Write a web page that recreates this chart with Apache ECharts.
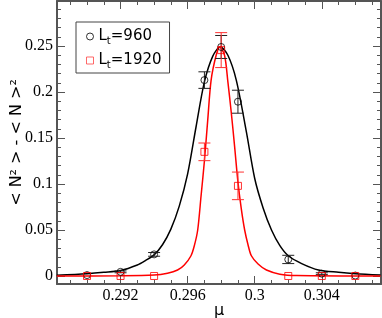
<!DOCTYPE html>
<html>
<head>
<meta charset="utf-8">
<script src="https://cdn.jsdelivr.net/npm/echarts@6/dist/echarts.min.js"></script>
<style>
html,body{margin:0;padding:0;background:#fff;}
#chart{width:382px;height:318px;}
</style>
</head>
<body>
<div id="chart"></div>
<script>
// ---- data ----
var muPoints = [0.290, 0.292, 0.294, 0.297, 0.298, 0.299, 0.302, 0.304, 0.306];
var val960 = [0.001, 0.0045, 0.0235, 0.213, 0.249, 0.1895, 0.018, 0.0025, 0.0005];
var err960 = [0, 0.001, 0.002, 0.009, 0.0125, 0.0125, 0.0045, 0.001, 0];
var val1920 = [0, 0, 0, 0.135, 0.2456, 0.098, 0, 0, 0];
var err1920 = [0, 0, 0, 0.0096, 0.019, 0.015, 0, 0, 0];

var curve960Mu = [0.2882, 0.2900, 0.2910, 0.2920, 0.2930, 0.2935, 0.2940, 0.2945, 0.2950, 0.2955, 0.2960, 0.2965, 0.2970, 0.2975, 0.29795, 0.2984, 0.2989, 0.2995, 0.3000, 0.3005, 0.3010, 0.3015, 0.3020, 0.3028, 0.3038, 0.3050, 0.3060, 0.3075];
var curve960Val = [0.0008, 0.0025, 0.004, 0.006, 0.012, 0.017, 0.023, 0.034, 0.051, 0.076, 0.111, 0.162, 0.211, 0.239, 0.249, 0.240, 0.213, 0.157, 0.106, 0.074, 0.050, 0.033, 0.022, 0.0135, 0.0065, 0.004, 0.0025, 0.001];
var curve1920Mu = [0.2882, 0.2920, 0.2940, 0.2948, 0.2954, 0.2958, 0.2962, 0.2964, 0.2966, 0.2968, 0.2970, 0.2972, 0.2974, 0.2977, 0.29791, 0.2982, 0.2984, 0.2986, 0.2988, 0.2990, 0.2992, 0.2994, 0.2996, 0.2998, 0.3002, 0.3007, 0.3015, 0.3025, 0.3075];
var curve1920Val = [0, 0.0002, 0.001, 0.003, 0.0065, 0.012, 0.022, 0.033, 0.050, 0.087, 0.125, 0.170, 0.213, 0.240, 0.249, 0.240, 0.211, 0.178, 0.141, 0.102, 0.073, 0.050, 0.034, 0.022, 0.013, 0.0065, 0.002, 0.0005, 0];

var names = ['Lt=960', 'Lt=1920'];
var xMajorTicks = [0.292, 0.296, 0.300, 0.304];
var xMinorTicks = [0.289, 0.290, 0.291, 0.293, 0.294, 0.295, 0.297, 0.298, 0.299, 0.301, 0.302, 0.303, 0.305, 0.306, 0.307];
var yMajorTicks = [0, 0.05, 0.10, 0.15, 0.20, 0.25];
var yMinorTicks = [0.01, 0.02, 0.03, 0.04, 0.06, 0.07, 0.08, 0.09, 0.11, 0.12, 0.13, 0.14, 0.16, 0.17, 0.18, 0.19, 0.21, 0.22, 0.23, 0.24, 0.26, 0.27, 0.28, 0.29];
var xRange = [0.28821, 0.30753];
var yRange = [-0.0087, 0.2990];

// ---- build ----
function zip2(a, b) { return a.map(function (v, i) { return [v, b[i]]; }); }
function zip3(a, b, c) { return a.map(function (v, i) { return [v, b[i], c[i]]; }); }

var axisColor = '#555';
function errRender(color) {
  return function (params, api) {
    var x = api.value(0), y = api.value(1), e = api.value(2);
    if (!e) return null;
    var t = api.coord([x, y + e]), b = api.coord([x, y - e]);
    var hw = 6;
    var st = { stroke: color, lineWidth: 1 };
    return {
      type: 'group', children: [
        { type: 'line', shape: { x1: t[0], y1: t[1], x2: b[0], y2: b[1] }, style: st },
        { type: 'line', shape: { x1: t[0] - hw, y1: t[1], x2: t[0] + hw, y2: t[1] }, style: st },
        { type: 'line', shape: { x1: b[0] - hw, y1: b[1], x2: b[0] + hw, y2: b[1] }, style: st }
      ]
    };
  };
}

function xAx(pos, ticks, len, showLine, labels) {
  return {
    type: 'value', position: pos, min: xRange[0], max: xRange[1],
    axisLine: { show: showLine, onZero: false, lineStyle: { color: axisColor, width: 2 } },
    axisTick: { show: true, inside: true, length: len, customValues: ticks, lineStyle: { color: axisColor, width: 1 } },
    axisLabel: labels ? { show: true, customValues: xMajorTicks, margin: 4, color: '#000', fontFamily: 'Liberation Serif', fontSize: 16 } : { show: false },
    splitLine: { show: false }
  };
}
function yAx(pos, ticks, len, showLine, labels) {
  return {
    type: 'value', position: pos, min: yRange[0], max: yRange[1],
    axisLine: { show: showLine, onZero: false, lineStyle: { color: axisColor, width: 2 } },
    axisTick: { show: true, inside: true, length: len, customValues: ticks, lineStyle: { color: axisColor, width: 1 } },
    axisLabel: labels ? { show: true, customValues: yMajorTicks, margin: 4, color: '#000', fontFamily: 'Liberation Serif', fontSize: 16 } : { show: false },
    splitLine: { show: false }
  };
}

var xAxes = [xAx('bottom', xMajorTicks, 8, true, true), xAx('bottom', xMinorTicks, 4, false, false),
             xAx('top', xMajorTicks, 8, true, false), xAx('top', xMinorTicks, 4, false, false)];
xAxes[0].name = 'μ';
xAxes[0].nameLocation = 'middle';
xAxes[0].nameGap = 19;
xAxes[0].nameMoveOverlap = false;
xAxes[0].nameTextStyle = { fontFamily: 'DejaVu Sans', fontSize: 16, color: '#000' };

var yAxes = [yAx('left', yMajorTicks, 8, true, true), yAx('left', yMinorTicks, 4, false, false),
             yAx('right', yMajorTicks, 8, true, false), yAx('right', yMinorTicks, 4, false, false)];
yAxes[0].name = '< N² > - < N >²';
yAxes[0].nameLocation = 'middle';
yAxes[0].nameGap = 32;
yAxes[0].nameMoveOverlap = false;
yAxes[0].nameTextStyle = { fontFamily: 'DejaVu Sans', fontSize: 16, color: '#000' };

var option = {
  animation: false,
  backgroundColor: '#fff',
  grid: { left: 57, right: 1, top: 1, bottom: 34, containLabel: false, outerBoundsMode: 'none' },
  xAxis: xAxes,
  yAxis: yAxes,
  legend: {
    left: 76, top: 22,
    orient: 'vertical',
    data: [
      { name: names[0], icon: 'circle', itemStyle: { color: 'rgba(255,255,255,0)', borderColor: '#000', borderWidth: 1 } },
      { name: names[1], icon: 'rect', itemStyle: { color: 'rgba(255,255,255,0)', borderColor: '#ff4444', borderWidth: 1 } }
    ],
    itemWidth: 7, itemHeight: 7, itemGap: 7,
    padding: [7, 8, 3, 10],
    borderColor: '#444', borderWidth: 1, backgroundColor: '#fff',
    selectedMode: false,
    formatter: function (n) { return '{m|L}{s|t}{m|=' + n.split('=')[1] + '}'; },
    textStyle: {
      color: '#000',
      rich: {
        m: { fontFamily: 'DejaVu Sans', fontSize: 15, color: '#000' },
        s: { fontFamily: 'DejaVu Sans', fontSize: 10, color: '#000', padding: [9, 0, 0, 0] }
      }
    }
  },
  series: [
    { name: 'curve960', type: 'line', data: zip2(curve960Mu, curve960Val), smooth: 0.3, showSymbol: false, symbol: 'none', lineStyle: { color: '#000', width: 1.5 }, z: 2 },
    { name: 'curve1920', type: 'line', data: zip2(curve1920Mu, curve1920Val), smooth: 0.3, showSymbol: false, symbol: 'none', lineStyle: { color: '#ff0000', width: 1.5 }, z: 3 },
    { name: 'err960', type: 'custom', renderItem: errRender('#222'), data: zip3(muPoints, val960, err960), encode: { x: 0, y: 1 }, z: 4 },
    { name: 'err1920', type: 'custom', renderItem: errRender('#ff3030'), data: zip3(muPoints, val1920, err1920), encode: { x: 0, y: 1 }, z: 5 },
    { name: names[0], type: 'scatter', data: zip2(muPoints, val960), symbol: 'circle', symbolSize: 7, itemStyle: { color: 'rgba(255,255,255,0)', borderColor: '#000', borderWidth: 1 }, z: 6 },
    { name: names[1], type: 'scatter', data: zip2(muPoints, val1920), symbol: 'rect', symbolSize: 7, itemStyle: { color: 'rgba(255,255,255,0)', borderColor: '#ff0000', borderWidth: 1 }, z: 7 }
  ]
};
var chart = echarts.init(document.getElementById('chart'), null, { renderer: 'canvas' });
chart.setOption(option);
</script>
</body>
</html>
